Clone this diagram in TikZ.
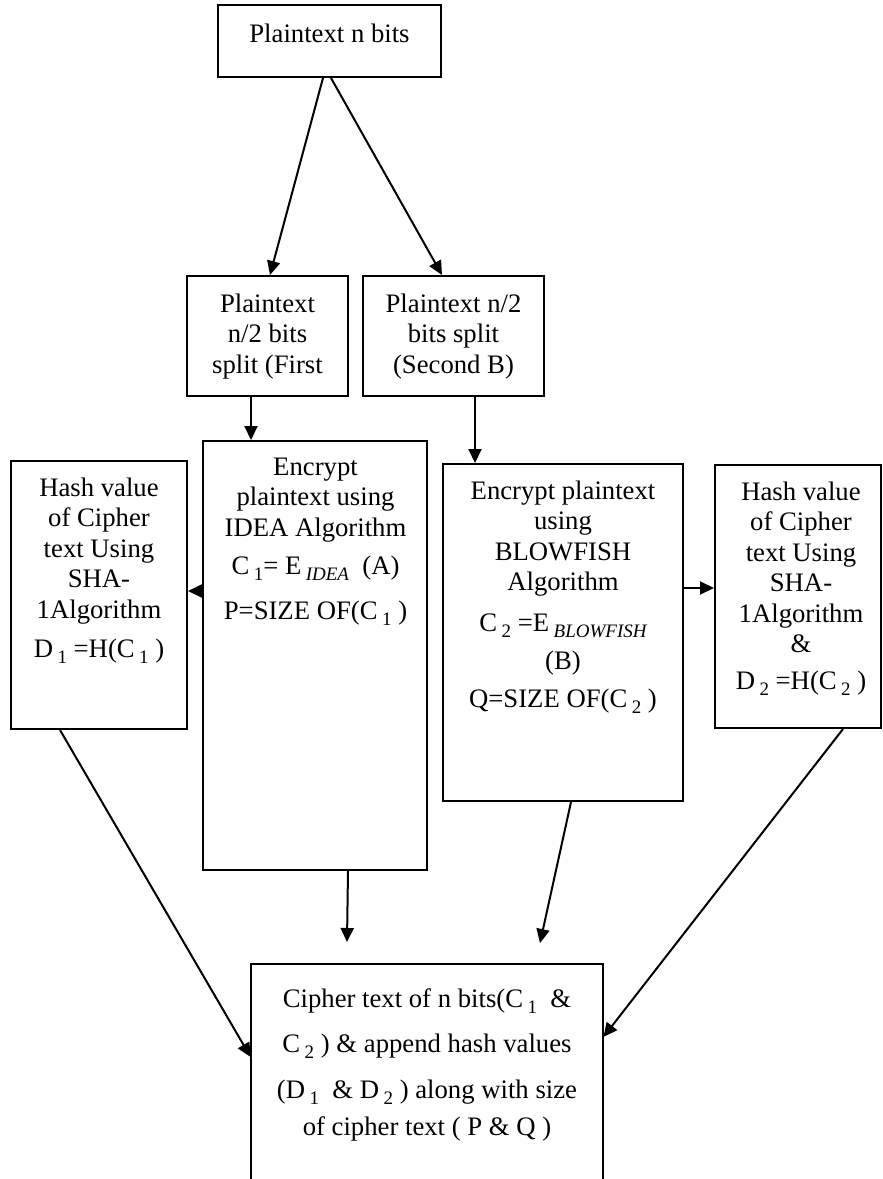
\documentclass[tikz,border=0pt]{standalone}
\usepackage{fontspec}
\setmainfont{Liberation Serif}
\usetikzlibrary{arrows.meta,calc}
\newcommand\sbs[1]{\,\raisebox{-3pt}{\fontsize{9.5pt}{9.5pt}\selectfont #1}}
\newcommand\sbsi[1]{\,\raisebox{-3pt}{\fontsize{9.5pt}{9.5pt}\selectfont\itshape #1}}
\newcommand\fl{\rule{0pt}{9.5pt}}
\tikzset{
  x=0.5pt, y=-0.5pt,
  box/.style={draw, line width=1pt, inner sep=0pt},
  txt/.style={inner sep=0pt, align=center, anchor=north,
    font=\fontsize{13.35pt}{15.25pt}\selectfont},
  arr/.style={line width=1pt, -{Triangle[length=7pt,width=6.5pt]}},
}
\begin{document}
\begin{tikzpicture}
\useasboundingbox (0,0) rectangle (883,1179);
% boxes
\node[box, minimum width=111.5pt, minimum height=36pt] (top) at (329.5,41) {};
\node[box, minimum width=80.5pt, minimum height=60pt] (split1) at (267.5,336) {};
\node[box, minimum width=90.5pt, minimum height=60pt] (split2) at (453.5,336) {};
\node[box, minimum width=88pt, minimum height=134pt] (hash1) at (99,595) {};
\node[box, minimum width=112pt, minimum height=214.5pt] (idea) at (315,655.5) {};
\node[box, minimum width=120pt, minimum height=168.5pt] (blow) at (563,632.5) {};
\node[box, minimum width=83pt, minimum height=131.5pt] (hash2) at (798,596.5) {};
\node[inner sep=0pt, minimum width=176pt, minimum height=107.5pt] (out) at (427,1071.5) {};
\draw[line width=1pt] (out.south west) -- (out.north west) -- (out.north east) -- (out.south east);
% texts (north = first baseline - 19px)
\node[txt, anchor=base] (ttop) at (329.5,42) {Plaintext n bits};
\node[txt] (tsplit1) at (267.5,293) {\fl Plaintext\\n/2 bits\\split (First};
\node[txt] (tsplit2) at (453.5,293) {\fl Plaintext n/2\\bits split\\(Second B)};
\node[txt] (thash1) at (99,477) {\fl Hash value\\of Cipher\\text Using\\SHA-\\1Algorithm\\[4.25pt]D\sbs{1} =H(C\sbs{1} )};
\node[txt] (tidea) at (315.5,456) {\fl Encrypt\\plaintext using\\IDEA Algorithm\\[3.75pt]C\sbs{1}= E\sbsi{IDEA}\ \ (A)\\[7.25pt]P=SIZE OF(C\sbs{1} )};
\node[txt] (tblow) at (563,480) {\fl Encrypt plaintext\\using\\BLOWFISH\\Algorithm\\[5.25pt]C\sbs{2} =E\sbsi{BLOWFISH}\\[3.75pt](B)\\[3.75pt]Q=SIZE OF(C\sbs{2} )};
\node[txt] (thash2) at (801,481) {\fl Hash value\\of Cipher\\text Using\\SHA-\\1Algorithm\\\&\\[3.25pt]D\sbs{2} =H(C\sbs{2} )};
\node[txt] (tout) at (427,988) {\fl Cipher text of n bits(C\sbs{1} \ \&\\[7.25pt]C\sbs{2} ) \& append hash values\\[7.75pt](D\sbs{1} \ \& D\sbs{2} ) along with size\\[3.25pt]of cipher text ( P \& Q )};
% free ends
\coordinate (e1) at (347,942);
\coordinate (e2) at (540,943);
% connectors
\draw[arr] ([xshift=-3.25pt]top.south) -- ([xshift=1.25pt]split1.north);
\draw[arr] ([xshift=0.75pt]top.south) -- ([xshift=-5.75pt]split2.north);
\draw[arr] ([xshift=-8.25pt]split1.south) -- ([xshift=-32pt]idea.north);
\draw[arr] ([xshift=10.75pt]split2.south) -- ([xshift=-44pt]blow.north);
\draw[arr] ([yshift=32.25pt]idea.west) -- ([yshift=2pt]hash1.east);
\draw[arr] ([yshift=22.25pt]blow.east) -- ([yshift=4.25pt]hash2.east -| hash2.west);
\draw[arr] ([xshift=16.5pt]idea.south) -- (e1);
\draw[arr] ([xshift=4pt]blow.south) -- (e2);
\draw[arr] ([xshift=-19.5pt]hash1.south) -- ([yshift=7.25pt]out.west);
\draw[arr] ([xshift=22.5pt]hash2.south) -- ([yshift=17.25pt]out.east);
\end{tikzpicture}
\end{document}
